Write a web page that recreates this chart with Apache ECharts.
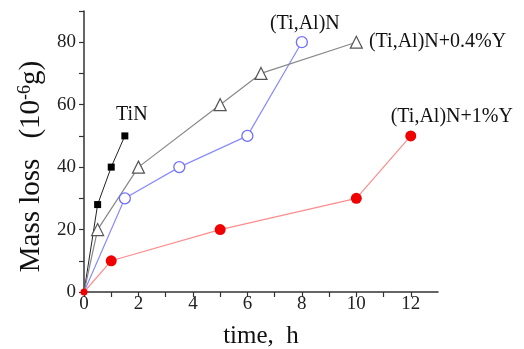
<!DOCTYPE html>
<html><head><meta charset="utf-8">
<script src="https://cdn.jsdelivr.net/npm/echarts@6/dist/echarts.min.js"></script>
<style>html,body{margin:0;padding:0;background:#fff}#c{width:524px;height:349px}</style>
</head><body><div id="c"></div>
<script>
const seriesNames = ['TiN', '(Ti,Al)N', '(Ti,Al)N+0.4%Y', '(Ti,Al)N+1%Y'];
const tinX = [0, 0.5, 1, 1.5];
const tinY = [0, 28, 40, 50];
const tialnX = [0, 1.5, 3.5, 6, 8];
const tialnY = [0, 30, 40, 50, 80];
const y04X = [0, 0.5, 2, 5, 6.5, 10];
const y04Y = [0, 20, 40, 60, 70, 80];
const y1X = [0, 1, 5, 10, 12];
const y1Y = [0, 10, 20, 30, 50];
const xTickLabels = ['0', '2', '4', '6', '8', '10', '12'];
const yTickLabels = ['0', '20', '40', '60', '80'];

const FONT = 'Liberation Serif';
function pts(xs, ys, hideOrigin) {
  return xs.map((x, i) => {
    const d = { value: [x, ys[i]] };
    if (i === 0 && hideOrigin) d.symbol = 'none';
    return d;
  });
}
function lastLabel(data, label) {
  data[data.length - 1].label = Object.assign({ show: true, formatter: '{a}', fontFamily: FONT, fontSize: 20, color: '#111' }, label);
  return data;
}
const chart = echarts.init(document.getElementById('c'), null, { renderer: 'canvas' });
const d1 = lastLabel(pts(y1X, y1Y, false), { position: 'top', distance: 4, offset: [41, 0] });
d1[0].symbolSize = 7;
chart.setOption({
  animation: false,
  grid: { left: 84, right: 86, top: 11, bottom: 57, outerBoundsMode: 'none', containLabel: false },
  xAxis: {
    type: 'value', min: 0, max: 13, interval: 1,
    name: 'time,  h', nameLocation: 'middle', nameGap: 32,
    nameTextStyle: { fontFamily: FONT, fontSize: 25, color: '#111' },
    axisLine: { show: true, lineStyle: { color: '#333', width: 1.5 } },
    axisTick: { show: true, length: 5, lineStyle: { color: '#333', width: 1.2 } },
    axisLabel: {
      margin: 3, fontFamily: FONT, fontSize: 19, color: '#222', showMaxLabel: false,
      formatter: v => xTickLabels.includes(String(v)) ? String(v) : ''
    },
    splitLine: { show: false }
  },
  yAxis: {
    type: 'value', min: 0, max: 90, interval: 10,
    name: '{a|Mass loss}{b|(10}{c|-6}{b|g)}', nameLocation: 'middle', nameGap: 36,
    nameTextStyle: {
      fontFamily: FONT, fontSize: 29, color: '#111', padding: [0, 30, 0, 0],
      rich: {
        a: { fontFamily: FONT, fontSize: 29, color: '#111', padding: [0, 20, 0, 0] },
        b: { fontFamily: FONT, fontSize: 29, color: '#111' },
        c: { fontFamily: FONT, fontSize: 18, color: '#111', verticalAlign: 'top', padding: [0, 0, 12, 0] }
      }
    },
    axisLine: { show: true, lineStyle: { color: '#333', width: 1.5 } },
    axisTick: { show: true, length: 5, lineStyle: { color: '#333', width: 1.2 } },
    axisLabel: {
      margin: 8, fontFamily: FONT, fontSize: 19, color: '#222',
      formatter: v => yTickLabels.includes(String(v)) ? String(v) : ''
    },
    splitLine: { show: false }
  },
  series: [
    {
      name: seriesNames[0], type: 'line', symbol: 'rect', symbolSize: 7,
      itemStyle: { color: '#000' }, lineStyle: { color: '#222', width: 1 },
      data: lastLabel(pts(tinX, tinY, true), { position: 'top', distance: 8, offset: [7, 0] })
    },
    {
      name: seriesNames[1], type: 'line', symbol: 'circle', symbolSize: 11,
      itemStyle: { color: '#fff', borderColor: '#6f6fff', borderWidth: 1.3 },
      lineStyle: { color: '#8a8aff', width: 1.2 },
      data: lastLabel(pts(tialnX, tialnY, true), { position: 'top', distance: 2, offset: [3, 0] })
    },
    {
      name: seriesNames[2], type: 'line', symbol: 'triangle', symbolSize: 12,
      itemStyle: { color: '#fff', borderColor: '#555', borderWidth: 1.2 },
      lineStyle: { color: '#888', width: 1.2 },
      data: lastLabel(pts(y04X, y04Y, true), { position: 'right', distance: 6 })
    },
    {
      name: seriesNames[3], type: 'line', symbol: 'circle', symbolSize: 11,
      itemStyle: { color: '#f00000' }, lineStyle: { color: '#ff8c8c', width: 1.2 },
      data: d1
    }
  ]
});
</script></body></html>
